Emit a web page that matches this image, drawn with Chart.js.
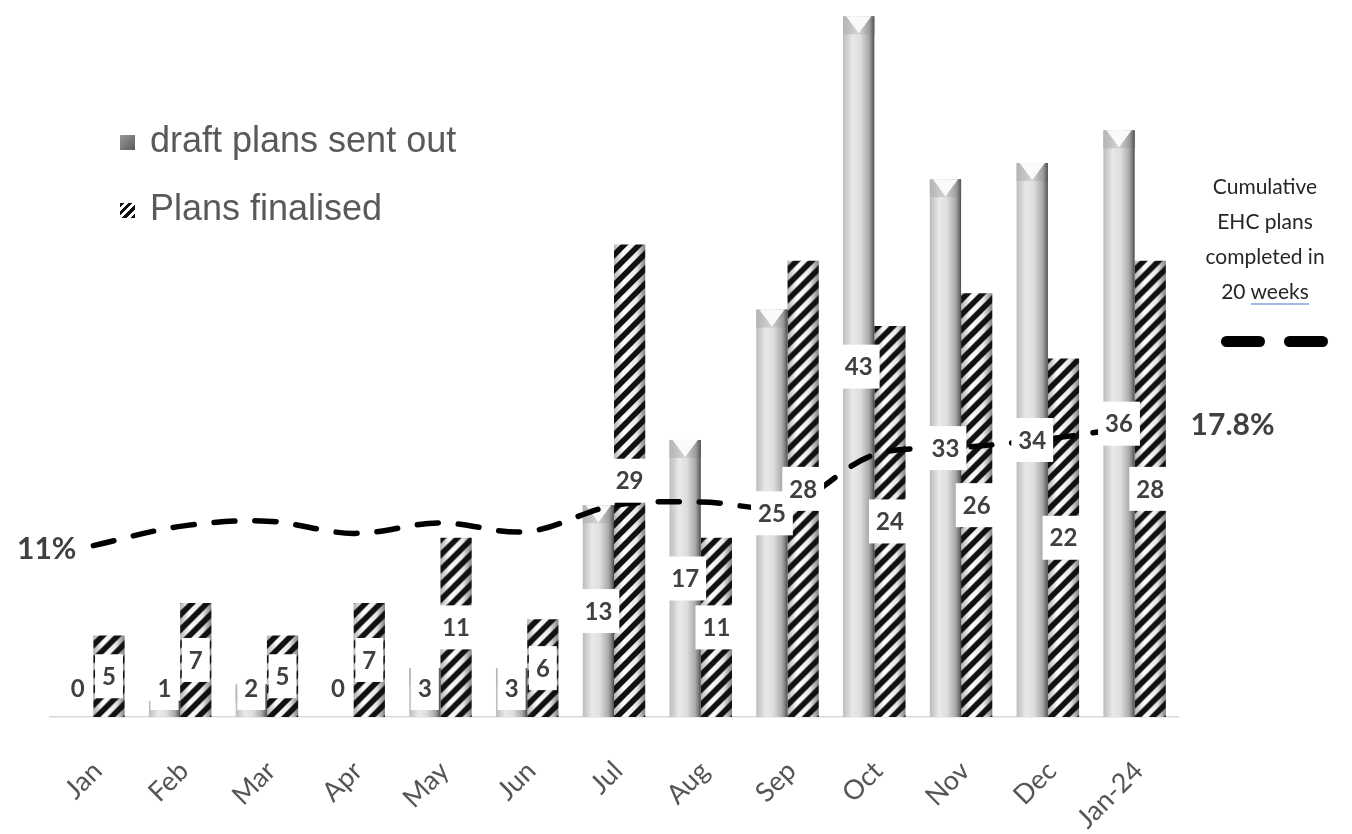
<!DOCTYPE html>
<html>
<head>
<meta charset="utf-8">
<script src="https://cdn.jsdelivr.net/npm/chart.js@4.4.0/dist/chart.umd.min.js"></script>
<style>
  body { margin: 0; background: #fff; }
  #wrap { position: relative; width: 1352px; height: 834px; }
  .legend { position: absolute; left: 120px; top: 106px; font: 36px "Liberation Sans", Arial, sans-serif; color: #595959; }
  .legend .row { height: 68px; line-height: 68px; white-space: nowrap; }
  .legend .key { display: inline-block; width: 15px; height: 15px; margin-right: 15px; vertical-align: 2px; }
  .key.draft { background: linear-gradient(135deg, #9a9a9a, #5a5a5a); }
  .key.fin { background: repeating-linear-gradient(135deg, #111 0 3px, #fff 3px 6px); }
  .side { position: absolute; left: 1195px; top: 168px; width: 140px; text-align: center;
          font: 21px Lato, sans-serif; line-height: 35px; color: #262626; }
  .side .wk { border-bottom: 2px solid #9dbbe6; }
  .dash { position: absolute; top: 336px; width: 44px; height: 11px; border-radius: 6px; background: #000; }
</style>
</head>
<body>
<div id="wrap">
  <canvas id="planChart"></canvas>
  <div class="legend">
    <div class="row"><span class="key draft"></span>draft plans sent out</div>
    <div class="row"><span class="key fin"></span>Plans finalised</div>
  </div>
  <div class="side">Cumulative<br>EHC plans<br>completed in<br>20 <span class="wk">weeks</span></div>
  <div class="dash" style="left:1221px"></div>
  <div class="dash" style="left:1284px"></div>
</div>
<script>
const months = ['Jan', 'Feb', 'Mar', 'Apr', 'May', 'Jun', 'Jul', 'Aug', 'Sep', 'Oct', 'Nov', 'Dec', 'Jan-24'];
const draftPlans = [0, 1, 2, 0, 3, 3, 13, 17, 25, 43, 33, 34, 36];
const plansFinalised = [5, 7, 5, 7, 11, 6, 29, 11, 28, 24, 26, 22, 28];
const completedPct = [11.0, 12.1, 12.4, 11.7, 12.3, 11.8, 13.3, 13.5, 13.3, 16.2, 16.6, 17.1, 17.8];

const CAT_PCT = 0.72;

// where a bar of the group sits, from the x scale
function barSpan(chart, index, slot) {
  const x = chart.scales.x;
  const c = x.getPixelForValue(index);
  const g = (x.width / months.length) * CAT_PCT;
  return slot === 0 ? [c - g / 2, c] : [c, c + g / 2];
}

function draftFill(ctx) {
  const chart = ctx.chart;
  if (ctx.type !== 'data' || !chart.chartArea) return '#d0d0d0';
  const [l, r] = barSpan(chart, ctx.dataIndex, 0);
  const grad = chart.ctx.createLinearGradient(l, 0, r, 0);
  grad.addColorStop(0, '#bcbcbc');
  grad.addColorStop(0.3, '#e9e9e9');
  grad.addColorStop(0.55, '#dedede');
  grad.addColorStop(0.82, '#ababab');
  grad.addColorStop(0.93, '#7a7a7a');
  grad.addColorStop(1, '#444');
  return grad;
}

function stripeFill(ctx) {
  const chart = ctx.chart;
  if (ctx.type !== 'data' || !chart.chartArea) return '#666';
  const [l, r] = barSpan(chart, ctx.dataIndex, 1);
  const w = Math.ceil(r - l);
  const tile = document.createElement('canvas');
  tile.width = w;
  tile.height = 60;
  const t = tile.getContext('2d');
  const sh = t.createLinearGradient(0, 0, w, 0);
  sh.addColorStop(0, '#b5b5b5');
  sh.addColorStop(0.3, '#ffffff');
  sh.addColorStop(0.7, '#e8e8e8');
  sh.addColorStop(1, '#7a7a7a');
  t.fillStyle = sh;
  t.fillRect(0, 0, w, 60);
  t.strokeStyle = '#111';
  t.lineWidth = 5.5;
  for (let k = -2; k < (w + 80) / 15 + 2; k++) {
    t.beginPath();
    t.moveTo(-10, 15 * k + 10);
    t.lineTo(w + 10, 15 * k - w - 10);
    t.stroke();
  }
  const pat = chart.ctx.createPattern(tile, 'repeat');
  pat.setTransform(new DOMMatrix().translateSelf(l, chart.chartArea.top));
  return pat;
}

// bevelled top on the grey bars
const bevelTops = {
  id: 'bevelTops',
  afterDatasetDraw(chart, args) {
    if (args.index !== 0) return;
    const ctx = chart.ctx;
    ctx.save();
    args.meta.data.forEach(bar => {
      if (bar.base - bar.y < 30) return;
      const l = bar.x - bar.width / 2, r = bar.x + bar.width / 2, top = bar.y;
      const sh = ctx.createLinearGradient(l, 0, r, 0);
      sh.addColorStop(0, '#b4b4b4');
      sh.addColorStop(0.5, '#d4d4d4');
      sh.addColorStop(0.85, '#9a9a9a');
      sh.addColorStop(1, '#555');
      ctx.fillStyle = sh;
      ctx.fillRect(l, top, r - l, 18);
      ctx.beginPath();
      ctx.moveTo(l + 3, top);
      ctx.lineTo(r - 3, top);
      ctx.lineTo(bar.x, top + 17);
      ctx.closePath();
      ctx.fillStyle = '#fafafa';
      ctx.fill();
    });
    ctx.restore();
  }
};

const valueLabels = {
  id: 'valueLabels',
  afterDatasetsDraw(chart) {
    const ctx = chart.ctx;
    ctx.save();
    ctx.font = 'bold 24px Lato';
    ctx.textAlign = 'center';
    ctx.textBaseline = 'middle';
    [0, 1].forEach(di => {
      const meta = chart.getDatasetMeta(di);
      const vals = chart.data.datasets[di].data;
      meta.data.forEach((bar, i) => {
        const txt = String(vals[i]);
        const cy = Math.min((bar.y + bar.base) / 2, bar.base - 29);
        const w = ctx.measureText(txt).width + 14;
        ctx.fillStyle = '#fff';
        ctx.fillRect(bar.x - w / 2, cy - 22, w, 44);
        ctx.fillStyle = '#404040';
        ctx.fillText(txt, bar.x, cy + 1);
      });
    });
    // first and last point of the line
    const line = chart.getDatasetMeta(2).data;
    const n = line.length - 1;
    ctx.font = 'bold 30px Lato';
    ctx.fillStyle = '#404040';
    ctx.textAlign = 'right';
    ctx.fillText(completedPct[0] + '%', line[0].x - 17, line[0].y + 4);
    ctx.textAlign = 'left';
    ctx.fillText(completedPct[n] + '%', line[n].x + 56, line[n].y - 1);
    ctx.restore();
  }
};

new Chart(document.getElementById('planChart'), {
  type: 'bar',
  data: {
    labels: months,
    datasets: [
      {
        label: 'draft plans sent out',
        data: draftPlans,
        backgroundColor: draftFill,
        categoryPercentage: CAT_PCT,
        barPercentage: 1,
        order: 1
      },
      {
        label: 'Plans finalised',
        data: plansFinalised,
        backgroundColor: stripeFill,
        categoryPercentage: CAT_PCT,
        barPercentage: 1,
        order: 1
      },
      {
        type: 'line',
        label: 'Cumulative EHC plans completed in 20 weeks',
        data: completedPct,
        yAxisID: 'y2',
        borderColor: '#000',
        borderWidth: 5.5,
        borderDash: [21, 20],
        borderCapStyle: 'round',
        tension: 0.35,
        pointRadius: 0,
        order: 0
      }
    ]
  },
  options: {
    responsive: true,
    maintainAspectRatio: false,
    animation: false,
    layout: { padding: { left: 50, right: 174, top: 0, bottom: 0 } },
    plugins: {
      legend: { display: false },
      tooltip: { enabled: false }
    },
    scales: {
      x: {
        grid: { display: false },
        border: { color: '#d9d9d9', width: 1.5 },
        ticks: {
          color: '#555',
          font: { family: 'Lato', size: 27 },
          maxRotation: 45,
          minRotation: 45,
          padding: 30,
          labelOffset: 4,
          autoSkip: false
        },
        afterFit(scale) { scale.height = 117; }
      },
      y: { display: false, min: 0, max: 44 },
      y2: { display: false, min: 1.2, max: 42.2 }
    }
  },
  plugins: [bevelTops, valueLabels]
});
</script>
</body>
</html>
